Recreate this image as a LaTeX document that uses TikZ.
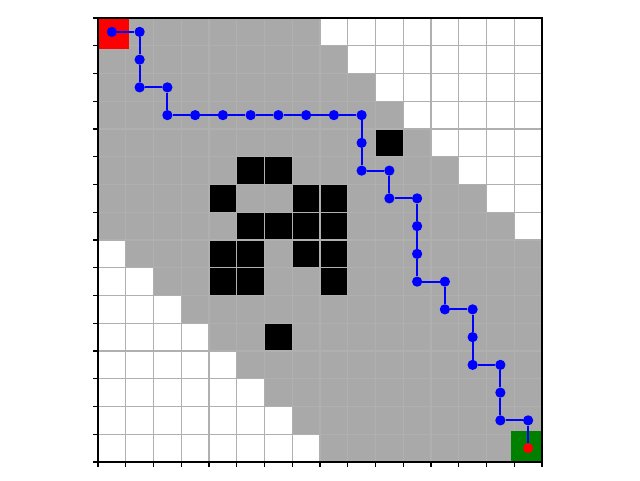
\documentclass[tikz,border=0pt]{standalone}
\definecolor{explored}{HTML}{A9A9A9}
\definecolor{gridgray}{HTML}{B0B0B0}
\definecolor{goalgreen}{HTML}{008000}
\tikzset{
    wall/.style={fill=black},
    route/.style={draw=blue, line width=2.1pt},
    waypoint/.style={circle, fill=blue, inner sep=0pt, minimum size=10.5pt},
    goaldot/.style={circle, fill=red, inner sep=0pt, minimum size=10.5pt},
    spine/.style={black, line width=1.1pt}
}
\begin{document}
\begin{tikzpicture}
    \useasboundingbox (-3.532,-0.649) rectangle (19.532,16.649);
    % explored area
    \fill[explored] (0,0) rectangle (16,16);
    % unexplored corners
    \foreach \r in {0,...,7}
        \fill[white] (8+\r,15-\r) rectangle (16,16-\r);
    \foreach \r in {8,...,15}
        \fill[white] (0,15-\r) rectangle (\r-7,16-\r);
    % obstacles
    \foreach \c/\r in {10/4,5/5,6/5,4/6,7/6,8/6,5/7,6/7,7/7,8/7,4/8,5/8,7/8,8/8,4/9,5/9,8/9,6/11}
        \fill[wall] (\c,15-\r) rectangle (\c+1,16-\r);
    % grid
    \draw[gridgray, line width=1.1pt] (0,0) grid (16,16);
    % start and goal
    \begin{scope}
        \clip (0,0) rectangle (16,16);
        \fill[red] (0.5-0.63,15.5-0.63) rectangle (0.5+0.63,15.5+0.63);
        \fill[goalgreen] (15.5-0.63,0.5-0.63) rectangle (15.5+0.63,0.5+0.63);
    \end{scope}
    % axes
    \draw[spine] (0,0) rectangle (16,16);
    \foreach \i in {0,...,16} {
        \draw[spine] (\i,0) -- (\i,-0.18);
        \draw[spine] (0,\i) -- (-0.18,\i);
    }
    % path
    \foreach \c/\r [count=\k] in {0/0,1/0,1/1,1/2,2/2,2/3,3/3,4/3,5/3,6/3,7/3,8/3,9/3,9/4,9/5,10/5,10/6,11/6,11/7,11/8,11/9,12/9,12/10,13/10,13/11,13/12,14/12,14/13,14/14,15/14}
        \node[waypoint] (p\k) at (\c+0.5,15.5-\r) {};
    \node[goaldot] (goal) at (15.5,0.5) {};
    \foreach \k [evaluate=\k as \n using int(\k+1)] in {1,...,29}
        \draw[route] (p\k) -- (p\n);
    \draw[route] (p30) -- (goal);
\end{tikzpicture}
\end{document}
